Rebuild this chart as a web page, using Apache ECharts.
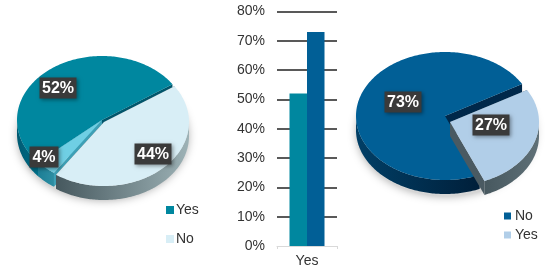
<!DOCTYPE html>
<html>
<head>
    <meta charset="UTF-8"/>
    <style>html, body { margin: 0; background: #fff; } #main { width: 550px; height: 273px; }</style>
    <script src="https://cdn.jsdelivr.net/npm/echarts@6/dist/echarts.min.js"></script>
</head>
<body>
<div id="main"></div>
<script>
    const leftNames = ['Yes', 'Unsure', 'No']
    const leftValues = [52, 4, 44]
    const rightNames = ['No', 'Yes']
    const rightValues = [73, 27]
    const barCategories = ['Yes']
    const barYes = [52]
    const barNo = [73]

    const TEAL = '#00879f', BLUE = '#015f96', PALE = '#d8eef6', SKY = '#b1cee8', CYAN = '#6fcfe4'
    const FONT = '"Liberation Sans", Arial, sans-serif'

    // pie geometry: angles in degrees, counter clockwise from 3 o'clock
    const leftPie = {cx: 102, cy: 120, a: 85, b: 64, depth: 14, start: 34, values: leftValues}
    const rightPie = {cx: 445, cy: 116, a: 89, b: 64, depth: 14, start: 30, values: rightValues}

    const leftLook = [
        {top: TEAL, wall: ['#005a72', '#00708a'], face: '#00566c', dx: 0, dy: 0},
        {top: CYAN, wall: ['#1c7f96', '#2d8ea3'], face: '#3da0b6', dx: 0, dy: 0},
        {top: PALE, wall: ['#46585e', '#9db2b6'], face: '#46585e', dx: 2, dy: 2}
    ]
    const rightLook = [
        {top: BLUE, wall: ['#013f66', '#001f3a'], face: '#00284a', dx: 0, dy: 0},
        {top: SKY, wall: ['#47585f', '#5f7077'], face: '#4a5a62', dx: 5, dy: 6}
    ]

    function ell(p, deg, look, drop) {
        let r = deg * Math.PI / 180
        return [p.cx + look.dx + p.a * Math.cos(r), p.cy + look.dy - p.b * Math.sin(r) + (drop || 0)]
    }

    function arc(p, from, to, look, drop) {
        let pts = []
        for (let d = from; d < to; d += 1) pts.push(ell(p, d, look, drop))
        pts.push(ell(p, to, look, drop))
        return pts
    }

    function hGradient(c0, c1) {
        return new echarts.graphic.LinearGradient(0, 0, 1, 0, [{offset: 0, color: c0}, {offset: 1, color: c1}])
    }

    function sliceSeries(p, names, look) {
        let acc = p.start
        return p.values.map((v, i) => {
            let from = acc, to = acc + v * 3.6
            acc = to
            return {
                type: 'custom',
                name: names[i],
                coordinateSystem: 'none',
                silent: true,
                z: 2,
                data: [[v]],
                renderItem: function () {
                    let l = look[i]
                    let apex = [p.cx + l.dx, p.cy + l.dy]
                    let apexLow = [apex[0], apex[1] + p.depth]
                    let kids = []
                    // cut faces
                    ;[from, to].forEach(d => {
                        let e = ell(p, d, l), eLow = ell(p, d, l, p.depth)
                        kids.push({
                            type: 'polygon', shape: {points: [apex, e, eLow, apexLow]},
                            style: {fill: l.face}
                        })
                    })
                    // outer wall, only the front half shows
                    let wFrom = Math.max(from, 180), wTo = Math.min(to, 360)
                    if (wTo > wFrom) {
                        let upper = arc(p, wFrom, wTo, l)
                        let lower = arc(p, wFrom, wTo, l, p.depth).reverse()
                        kids.push({
                            type: 'polygon', shape: {points: upper.concat(lower)},
                            style: {fill: hGradient(l.wall[0], l.wall[1])}
                        })
                    }
                    kids.push({
                        type: 'polygon', shape: {points: [apex].concat(arc(p, from, to, l))},
                        style: {fill: l.top}
                    })
                    return {type: 'group', children: kids}
                }
            }
        })
    }

    // soft ground shadow under a pie
    function groundSeries(p) {
        return {
            type: 'custom',
            name: 'ground',
            coordinateSystem: 'none',
            silent: true,
            z: 1,
            data: [[0]],
            renderItem: function () {
                let pts = arc(p, 0, 360, {dx: 1, dy: 0}, p.depth + 2)
                return {
                    type: 'polygon', shape: {points: pts},
                    style: {fill: '#d6d6d6', shadowBlur: 10, shadowColor: 'rgba(0,0,0,0.35)'}
                }
            }
        }
    }

    // boxed percent labels, box centres are picked per slice
    function labelSeries(values, centres) {
        return {
            type: 'custom',
            name: 'labels',
            coordinateSystem: 'none',
            silent: true,
            z: 5,
            data: values.map(v => [v]),
            renderItem: function (params, api) {
                let v = api.value(0)
                let c = centres[params.dataIndex]
                let w = v < 10 ? 29 : 37, h = 21
                return {
                    type: 'group',
                    children: [{
                        type: 'rect',
                        shape: {x: c[0] - w / 2, y: c[1] - h / 2, width: w, height: h},
                        style: {fill: '#3a3a3a', shadowBlur: 4, shadowOffsetX: 1, shadowOffsetY: 1, shadowColor: 'rgba(0,0,0,0.4)'}
                    }, {
                        type: 'text',
                        style: {
                            x: c[0], y: c[1] + 0.5, text: v + '%', fill: '#fff',
                            font: 'bold 16px ' + FONT, align: 'center', verticalAlign: 'middle'
                        }
                    }]
                }
            }
        }
    }

    const myChart = echarts.init(document.getElementById('main'), null, {renderer: 'canvas'})
    myChart.setOption({
        animation: false,
        backgroundColor: '#fff',
        grid: {left: 277, right: 213, top: 11.5, bottom: 27},
        legend: [
            {
                orient: 'vertical', left: 161, top: 198, icon: 'rect', itemWidth: 8, itemHeight: 8, itemGap: 15,
                selectedMode: false, textStyle: {fontSize: 14, color: '#333', fontFamily: FONT, padding: [0, 0, 0, -3]},
                data: [{name: 'Yes', itemStyle: {color: TEAL}}, {name: 'No', itemStyle: {color: PALE}}]
            },
            {
                orient: 'vertical', left: 499, top: 204, icon: 'rect', itemWidth: 7, itemHeight: 7, itemGap: 5,
                selectedMode: false, textStyle: {fontSize: 14, color: '#333', fontFamily: FONT, padding: [0, 0, 0, -1]},
                data: [{name: 'No', itemStyle: {color: BLUE}}, {name: 'Yes', itemStyle: {color: SKY}}]
            }
        ],
        xAxis: {
            type: 'category',
            data: barCategories,
            axisLine: {lineStyle: {color: '#d9d9d9', width: 1}},
            axisTick: {show: true, length: 3, lineStyle: {color: '#d9d9d9'}},
            axisLabel: {fontSize: 14, color: '#333', fontFamily: FONT, margin: 8}
        },
        yAxis: {
            type: 'value', min: 0, max: 80, interval: 10,
            axisLine: {show: false},
            axisTick: {show: false},
            axisLabel: {formatter: '{value}%', fontSize: 14, color: '#333', fontFamily: FONT, margin: 12},
            splitLine: {showMinLine: false, lineStyle: {color: '#222', width: 1.5}}
        },
        series: [
            groundSeries(leftPie),
            groundSeries(rightPie),
            ...sliceSeries(leftPie, leftNames, leftLook),
            ...sliceSeries(rightPie, rightNames, rightLook),
            labelSeries(leftValues, [[58, 88], [44, 157], [153, 154]]),
            labelSeries(rightValues, [[403, 102], [491, 125]]),
            {type: 'bar', name: 'Yes', data: barYes, barWidth: 17.5, barGap: 0, itemStyle: {color: TEAL}, z: 3},
            {type: 'bar', name: 'No', data: barNo, barWidth: 17.5, barGap: 0, itemStyle: {color: BLUE}, z: 3}
        ]
    })
</script>
</body>
</html>
